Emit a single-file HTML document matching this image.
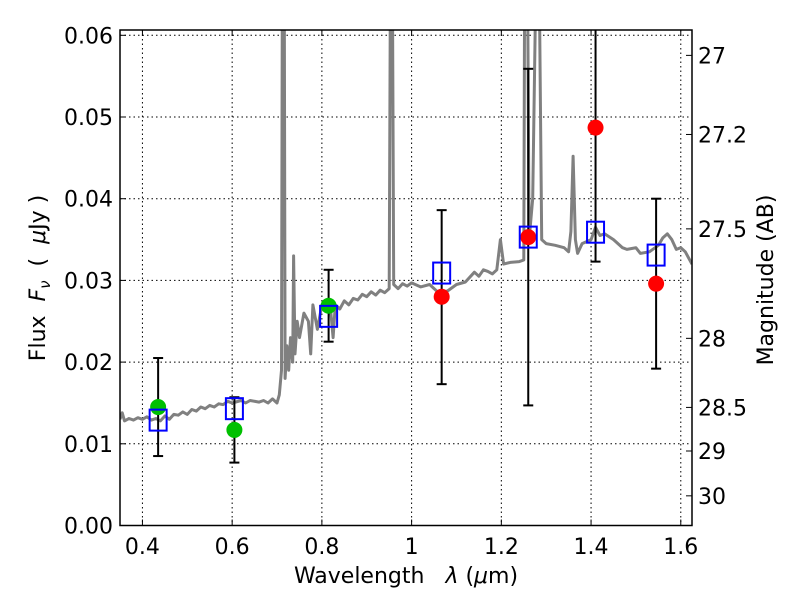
<!DOCTYPE html>
<html><head><meta charset="utf-8"><style>
body{margin:0;background:#fff}
svg text{font-family:"DejaVu Sans","Liberation Sans",sans-serif;fill:#000}
</style></head><body>
<svg id="chart" width="800" height="600" xmlns="http://www.w3.org/2000/svg">
<defs><clipPath id="clip"><rect x="120" y="30" width="572" height="495.5"/></clipPath></defs>
<g id="grid"></g>
<g id="spec" clip-path="url(#clip)"></g>
<g id="marks" clip-path="url(#clip)"></g>
<rect x="120" y="30" width="572" height="495.5" fill="none" stroke="#000" stroke-width="1.5"/>
<g id="axes"></g>
<text x="406" y="583" font-size="22" text-anchor="middle">Wavelength&#160;&#160;&#160;<tspan font-style="italic">λ</tspan>&#160;(<tspan font-style="italic">μ</tspan>m)</text>
<text transform="translate(45,278) rotate(-90)" font-size="22" text-anchor="middle">Flux&#160;&#160;<tspan font-style="italic">F</tspan><tspan font-style="italic" font-size="15" dy="5">ν</tspan><tspan dy="-5">&#160;&#160;(&#160;&#160;</tspan><tspan font-style="italic">μ</tspan>Jy&#160;)</text>
<text transform="translate(773,280) rotate(-90)" font-size="22" text-anchor="middle">Magnitude (AB)</text>
</svg>
<script>
const specWave=[0.35,0.355,0.36,0.37,0.38,0.39,0.40,0.41,0.42,0.43,0.44,0.45,0.46,0.47,0.48,0.49,0.50,0.51,0.52,0.53,0.54,0.55,0.56,0.57,0.58,0.59,0.60,0.62,0.63,0.64,0.66,0.67,0.68,0.69,0.70,0.705,0.710,0.712,0.716,0.718,0.722,0.726,0.730,0.735,0.737,0.740,0.745,0.75,0.76,0.77,0.775,0.78,0.79,0.80,0.82,0.825,0.83,0.84,0.85,0.86,0.87,0.88,0.89,0.90,0.91,0.92,0.93,0.94,0.95,0.953,0.957,0.96,0.97,0.98,0.99,1.00,1.02,1.04,1.06,1.08,1.10,1.12,1.14,1.15,1.16,1.17,1.18,1.19,1.198,1.205,1.22,1.24,1.25,1.252,1.258,1.262,1.27,1.278,1.284,1.29,1.30,1.32,1.34,1.35,1.355,1.36,1.365,1.37,1.38,1.40,1.41,1.42,1.43,1.45,1.47,1.48,1.50,1.51,1.53,1.55,1.56,1.57,1.58,1.59,1.60,1.61,1.625];
const specFlux=[0.0130,0.0138,0.0128,0.0131,0.0129,0.0132,0.0130,0.0133,0.0129,0.0131,0.0128,0.0134,0.0130,0.0136,0.0135,0.0139,0.0136,0.0142,0.0140,0.0145,0.0143,0.0147,0.0145,0.0149,0.0148,0.0152,0.0150,0.0153,0.0150,0.0153,0.0151,0.0153,0.0150,0.0155,0.0150,0.0160,0.019,0.07,0.07,0.018,0.022,0.019,0.023,0.020,0.033,0.021,0.025,0.023,0.026,0.025,0.021,0.027,0.024,0.027,0.026,0.023,0.027,0.0265,0.0275,0.0270,0.0278,0.0276,0.0283,0.0280,0.0286,0.0282,0.0288,0.0285,0.0290,0.07,0.07,0.0295,0.0290,0.0296,0.0293,0.0297,0.0292,0.0295,0.0285,0.0287,0.0295,0.0298,0.0310,0.0305,0.0313,0.0311,0.0308,0.0313,0.0350,0.0320,0.0322,0.0323,0.0325,0.07,0.07,0.035,0.040,0.07,0.07,0.035,0.0345,0.0343,0.0340,0.0335,0.036,0.0452,0.035,0.0333,0.0345,0.0350,0.0365,0.0355,0.0357,0.0350,0.0340,0.0338,0.0340,0.0333,0.0335,0.0343,0.0352,0.0357,0.0350,0.0338,0.0340,0.0335,0.0320];
const greenWave=[0.435,0.605,0.815];
const greenFlux=[0.0145,0.0117,0.0269];
const greenErrLo=[0.0085,0.0077,0.0225];
const greenErrHi=[0.0205,0.0157,0.0313];
const redWave=[1.067,1.26,1.41,1.545];
const redFlux=[0.0280,0.0353,0.0487,0.0296];
const redErrLo=[0.0173,0.0147,0.0323,0.0192];
const redErrHi=[0.0386,0.0559,0.0650,0.0400];
const modelWave=[0.435,0.605,0.815,1.067,1.26,1.41,1.545];
const modelFlux=[0.0129,0.0143,0.0256,0.0309,0.0353,0.0359,0.0331];
const xTicks=[0.4,0.6,0.8,1.0,1.2,1.4,1.6];
const xTickLabels=["0.4","0.6","0.8","1","1.2","1.4","1.6"];
const yTicks=[0,0.01,0.02,0.03,0.04,0.05,0.06];
const yTickLabels=["0.00","0.01","0.02","0.03","0.04","0.05","0.06"];
const magTicks=[27,27.2,27.5,28,28.5,29,30];
const magTickLabels=["27","27.2","27.5","28","28.5","29","30"];

const NS="http://www.w3.org/2000/svg";
const X0=120,X1=692,Y0=525.5,Y1=30,XMIN=0.35,XMAX=1.625,YMIN=0,YMAX=0.06065;
const xs=v=>X0+(v-XMIN)/(XMAX-XMIN)*(X1-X0);
const ys=v=>Y0-(v-YMIN)/(YMAX-YMIN)*(Y0-Y1);
const magToFlux=m=>Math.pow(10,(23.9-m)/2.5);
function mk(tag,attrs,parent){const e=document.createElementNS(NS,tag);for(const k in attrs)e.setAttribute(k,attrs[k]);parent.appendChild(e);return e;}
const grid=document.getElementById('grid'),axes=document.getElementById('axes'),spec=document.getElementById('spec'),marks=document.getElementById('marks');
xTicks.forEach((t,i)=>{const x=xs(t);
 let g=mk('line',{x1:x,x2:x,y1:Y1,y2:Y0,stroke:'#000','stroke-width':1,'stroke-dasharray':'1.5,3'},grid);
 
 let a=mk('line',{x1:x,x2:x,y1:Y0,y2:Y0-6,stroke:'#000','stroke-width':1},axes);
 
 let b=mk('line',{x1:x,x2:x,y1:Y1,y2:Y1+6,stroke:'#000','stroke-width':1},axes);
 
 let tx=mk('text',{x:x,y:554,'font-size':22,'text-anchor':'middle'},axes);tx.textContent=xTickLabels[i];
 });
yTicks.forEach((t,i)=>{const y=ys(t);
 if(t>0){let g=mk('line',{x1:X0,x2:X1,y1:y,y2:y,stroke:'#000','stroke-width':1,'stroke-dasharray':'1.5,3'},grid);
 }
 let a=mk('line',{x1:X0,x2:X0+6,y1:y,y2:y,stroke:'#000','stroke-width':1},axes);
 
 let tx=mk('text',{x:113,y:y+8,'font-size':22,'text-anchor':'end'},axes);tx.textContent=yTickLabels[i];
 });
magTicks.forEach((m,i)=>{const y=ys(magToFlux(m));
 let a=mk('line',{x1:X1,x2:X1-6,y1:y,y2:y,stroke:'#000','stroke-width':1},axes);
 
 let tx=mk('text',{x:698,y:y+8,'font-size':22,'text-anchor':'start'},axes);tx.textContent=magTickLabels[i];
 });
const pts=specWave.map((w,i)=>xs(w).toFixed(1)+','+ys(specFlux[i]).toFixed(1)).join(' ');
const pl=mk('polyline',{points:pts,fill:'none',stroke:'#808080','stroke-width':3,'stroke-linejoin':'round'},spec);

function errbar(w,lo,hi){const x=xs(w);
 let l=mk('line',{x1:x,x2:x,y1:ys(lo),y2:ys(hi),stroke:'#000','stroke-width':2},marks);
 
 [lo,hi].forEach(v=>{let c=mk('line',{x1:x-5,x2:x+5,y1:ys(v),y2:ys(v),stroke:'#000','stroke-width':2},marks);
 });}
greenWave.forEach((w,i)=>errbar(w,greenErrLo[i],greenErrHi[i]));
redWave.forEach((w,i)=>errbar(w,redErrLo[i],redErrHi[i]));
greenWave.forEach((w,i)=>{let c=mk('circle',{cx:xs(w),cy:ys(greenFlux[i]),r:8,fill:'#00c000'},marks);
 });
redWave.forEach((w,i)=>{let c=mk('circle',{cx:xs(w),cy:ys(redFlux[i]),r:8,fill:'#ff0000'},marks);
 });
modelWave.forEach((w,i)=>{let r=mk('rect',{x:xs(w)-8.5,y:ys(modelFlux[i])-10.5,width:17,height:21,fill:'none',stroke:'#0000ff','stroke-width':2},marks);
 });
</script>
</body></html>
